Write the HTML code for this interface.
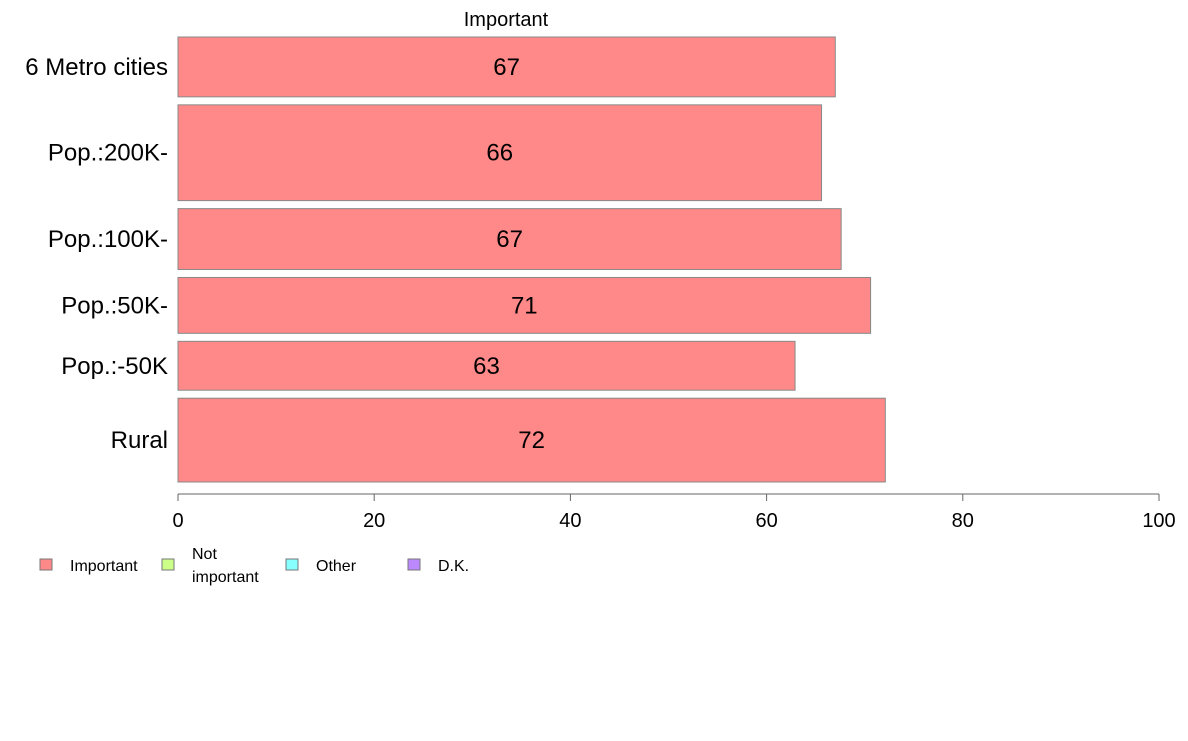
<!DOCTYPE html>
<html><head><meta charset="utf-8"><style>
body{margin:0;background:#fff;font-family:"Liberation Sans",Arial,sans-serif;}
</style></head><body>
<svg id="chart" width="1188" height="736" xmlns="http://www.w3.org/2000/svg" font-family="Liberation Sans, Arial, sans-serif">
<text x="506" y="26" font-size="20" text-anchor="middle">Important</text>
<g id="bars"></g>
<g id="axis"></g>
<g id="legend"></g>
</svg>
<script>
const categories=["6 Metro cities","Pop.:200K-","Pop.:100K-","Pop.:50K-","Pop.:-50K","Rural"];
const values=[67,65.6,67.6,70.6,62.9,72.1];
const labels=["67","66","67","71","63","72"];
const weights=[60,96,61,56,49,84];
const ticks=[0,20,40,60,80,100];
const legendItems=["Important","Not\nimportant","Other","D.K."];
const legendColors=["#ff8888","#ccff88","#88ffff","#bb88ff"];
const NS="http://www.w3.org/2000/svg";
const x0=178,x1=1159,yTop=37,yBottom=482,gap=8;
const xs=v=>x0+(v/100)*(x1-x0);
const totalW=weights.reduce((a,b)=>a+b,0);
const unit=(yBottom-yTop-gap*(categories.length-1))/totalW;
function mk(t,a,p){const e=document.createElementNS(NS,t);for(const k in a)e.setAttribute(k,a[k]);p.appendChild(e);return e;}
const bars=document.getElementById('bars');
let yPos=yTop;
categories.forEach((c,i)=>{
 const h=weights[i]*unit;
 const r=mk('rect',{x:x0,y:yPos,width:xs(values[i])-x0,height:h,fill:'#ff8888',stroke:'#888','stroke-width':1},bars);
 
 
 const t=mk('text',{x:(x0+xs(values[i]))/2,y:yPos+h/2+8,'font-size':24,'text-anchor':'middle'},bars);
 t.textContent=labels[i];
 
 
 const l=mk('text',{x:168,y:yPos+h/2+8,'font-size':24,'text-anchor':'end'},bars);
 l.textContent=c;
 
 
 yPos+=h+gap;
});
const ax=document.getElementById('axis');
const al=mk('line',{x1:x0,x2:x1,y1:494,y2:494,stroke:'#666'},ax);


ticks.forEach(v=>{
 mk('line',{x1:xs(v),x2:xs(v),y1:494,y2:501,stroke:'#666'},ax);
 const t=mk('text',{x:xs(v),y:527,'font-size':20,'text-anchor':'middle'},ax);
 t.textContent=v;
 
 
});
const lg=document.getElementById('legend');
const lx=[40,162,286,408];
legendItems.forEach((s,i)=>{
 const r=mk('rect',{x:lx[i],y:559,width:12,height:11,fill:legendColors[i],stroke:'#777'},lg);
 
 
 const parts=s.split("\n");
 const t=mk('text',{x:lx[i]+30,'font-size':16},lg);
 
 
 if(parts.length===1){t.setAttribute('y',571);t.textContent=s;}
 else parts.forEach((p,j)=>{const ts=mk('tspan',{x:lx[i]+30,y:559+j*23},t);ts.textContent=p;});
});
</script>
</body></html>
